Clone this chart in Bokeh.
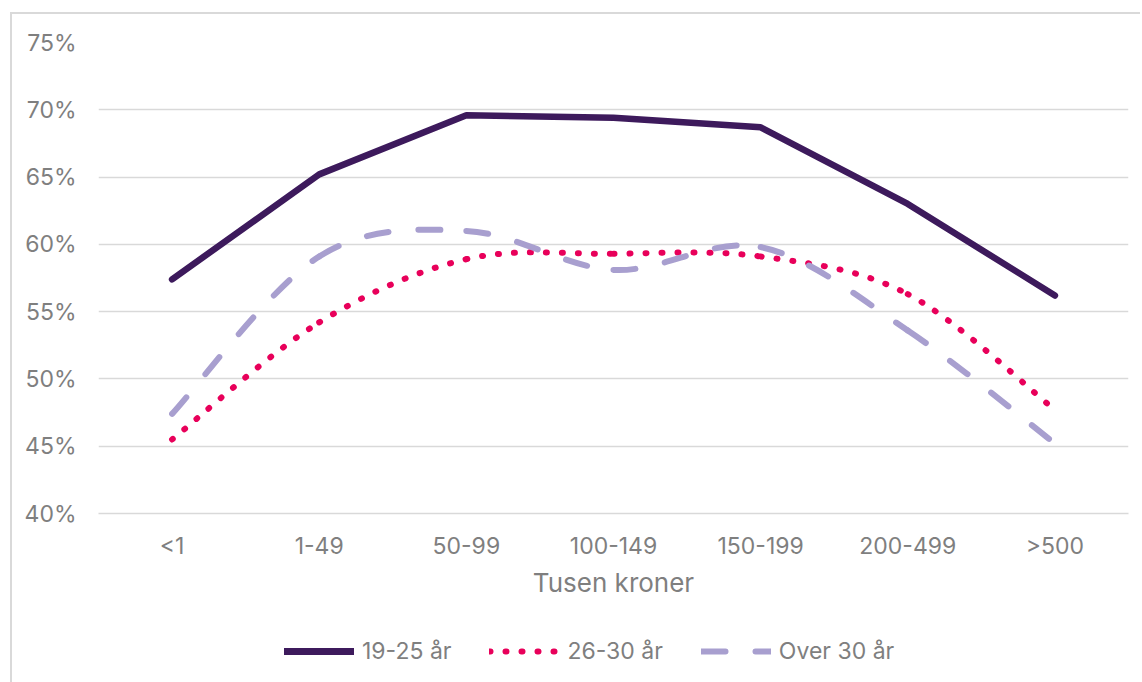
from bokeh.plotting import figure
from bokeh.models import Range1d, FixedTicker, PrintfTickFormatter, Legend, LegendItem
from bokeh.layouts import column
from bokeh.embed import file_html
from bokeh.resources import INLINE

categories = ["<1", "1-49", "50-99", "100-149", "150-199", "200-499", ">500"]
series_names = ["19-25 år", "26-30 år", "Over 30 år"]
s_19_25 = [57.4, 65.2, 69.6, 69.4, 68.7, 63.0, 56.2]
s_26_30 = [45.5, 54.2, 58.9, 59.3, 59.1, 56.3, 47.7]
s_over_30 = [47.4, 59.1, 61.0, 58.1, 59.8, 53.6, 45.2]
y_ticks = [40, 45, 50, 55, 60, 65, 70, 75]
x_title = "Tusen kroner"

FONT = "Inter"
TXT = "#7f7f7f"
GRID = "#d9d9d9"
C1, C2, C3 = "#3d1a5c", "#e8005a", "#a89fcf"
DOT = "1 15"
DASH = "22 30"
FS = "23px"

xs = list(range(len(categories)))

W = 1128
p = figure(width=W, height=589, x_range=Range1d(-0.5, 6.5), y_range=Range1d(40, 75),
           output_backend="svg", toolbar_location=None,
           min_border_left=86, min_border_right=12, min_border_top=28, min_border_bottom=90)
p.outline_line_color = None
p.background_fill_color = "white"
p.border_fill_color = "white"

p.xgrid.grid_line_color = None
p.ygrid.grid_line_color = GRID
p.ygrid.grid_line_width = 1.5

p.yaxis.ticker = FixedTicker(ticks=y_ticks)
p.yaxis.formatter = PrintfTickFormatter(format="%d%%")
p.yaxis.axis_line_color = None
p.yaxis.major_tick_line_color = None
p.yaxis.minor_tick_line_color = None
p.yaxis.major_tick_out = 0
p.yaxis.major_tick_in = 0
p.yaxis.major_label_standoff = 22
p.yaxis.major_label_text_font = FONT
p.yaxis.major_label_text_font_size = FS
p.yaxis.major_label_text_color = TXT

p.xaxis.ticker = FixedTicker(ticks=xs)
p.xaxis.major_label_overrides = {i: c for i, c in enumerate(categories)}
p.xaxis.axis_line_color = GRID
p.xaxis.axis_line_width = 1.5
p.xaxis.major_tick_line_color = None
p.xaxis.minor_tick_line_color = None
p.xaxis.major_tick_out = 0
p.xaxis.major_tick_in = 0
p.xaxis.major_label_standoff = 18
p.xaxis.major_label_text_font = FONT
p.xaxis.major_label_text_font_size = FS
p.xaxis.major_label_text_color = TXT
p.xaxis.axis_label = x_title
p.xaxis.axis_label_standoff = 4
p.xaxis.axis_label_text_font = FONT
p.xaxis.axis_label_text_font_size = "26px"
p.xaxis.axis_label_text_font_style = "normal"
p.xaxis.axis_label_text_color = TXT


def smooth_segments(x, y):
    n = len(x)
    out = dict(x0=[], y0=[], x1=[], y1=[], cx0=[], cy0=[], cx1=[], cy1=[])
    for i in range(n - 1):
        pa = max(i - 1, 0)
        pd = min(i + 2, n - 1)
        out["x0"].append(x[i]); out["y0"].append(y[i])
        out["x1"].append(x[i + 1]); out["y1"].append(y[i + 1])
        out["cx0"].append(x[i] + (x[i + 1] - x[pa]) / 6.0)
        out["cy0"].append(y[i] + (y[i + 1] - y[pa]) / 6.0)
        out["cx1"].append(x[i + 1] - (x[pd] - x[i]) / 6.0)
        out["cy1"].append(y[i + 1] - (y[pd] - y[i]) / 6.0)
    return out


p.line(xs, s_19_25, line_color=C1, line_width=6.5, line_join="round", line_cap="round")

b2 = smooth_segments(xs, s_26_30)
p.bezier(source=b2, x0="x0", y0="y0", x1="x1", y1="y1", cx0="cx0", cy0="cy0", cx1="cx1", cy1="cy1",
         line_color=C2, line_width=6, line_dash=DOT, line_cap="round")

b3 = smooth_segments(xs, s_over_30)
p.bezier(source=b3, x0="x0", y0="y0", x1="x1", y1="y1", cx0="cx0", cy0="cy0", cx1="cx1", cy1="cy1",
         line_color=C3, line_width=6, line_dash=DASH, line_cap="round")

# legend strip below the chart
p2 = figure(width=W, height=79, x_range=Range1d(0, 1), y_range=Range1d(0, 1),
            x_axis_location=None, y_axis_location=None,
            output_backend="svg", toolbar_location=None,
            min_border_left=0, min_border_right=0, min_border_top=0, min_border_bottom=0)
p2.grid.visible = False
p2.outline_line_color = None
p2.background_fill_color = "white"
p2.border_fill_color = "white"
off = [-10, -9]
l1 = p2.line(off, off, line_color=C1, line_width=7, line_cap="round")
l2 = p2.line(off, off, line_color=C2, line_width=6, line_dash=DOT, line_cap="round")
l3 = p2.line(off, off, line_color=C3, line_width=6, line_dash="24 30", line_cap="round")
legend = Legend(items=[LegendItem(label=series_names[0], renderers=[l1]),
                       LegendItem(label=series_names[1], renderers=[l2]),
                       LegendItem(label=series_names[2], renderers=[l3])],
                orientation="horizontal", location=(186, 17),
                glyph_width=70, glyph_height=20, label_standoff=8, spacing=38,
                padding=0, margin=0, border_line_color=None, background_fill_alpha=0,
                label_text_font=FONT, label_text_font_size=FS, label_text_color=TXT)
p2.add_layout(legend, "center")

layout = column(p, p2, spacing=0)
layout.styles = {"margin-left": "10px", "margin-top": "12px",
                 "border-left": "2px solid #d9d9d9", "border-top": "2px solid #d9d9d9"}

open("out.html", "w").write(file_html(layout, INLINE))
